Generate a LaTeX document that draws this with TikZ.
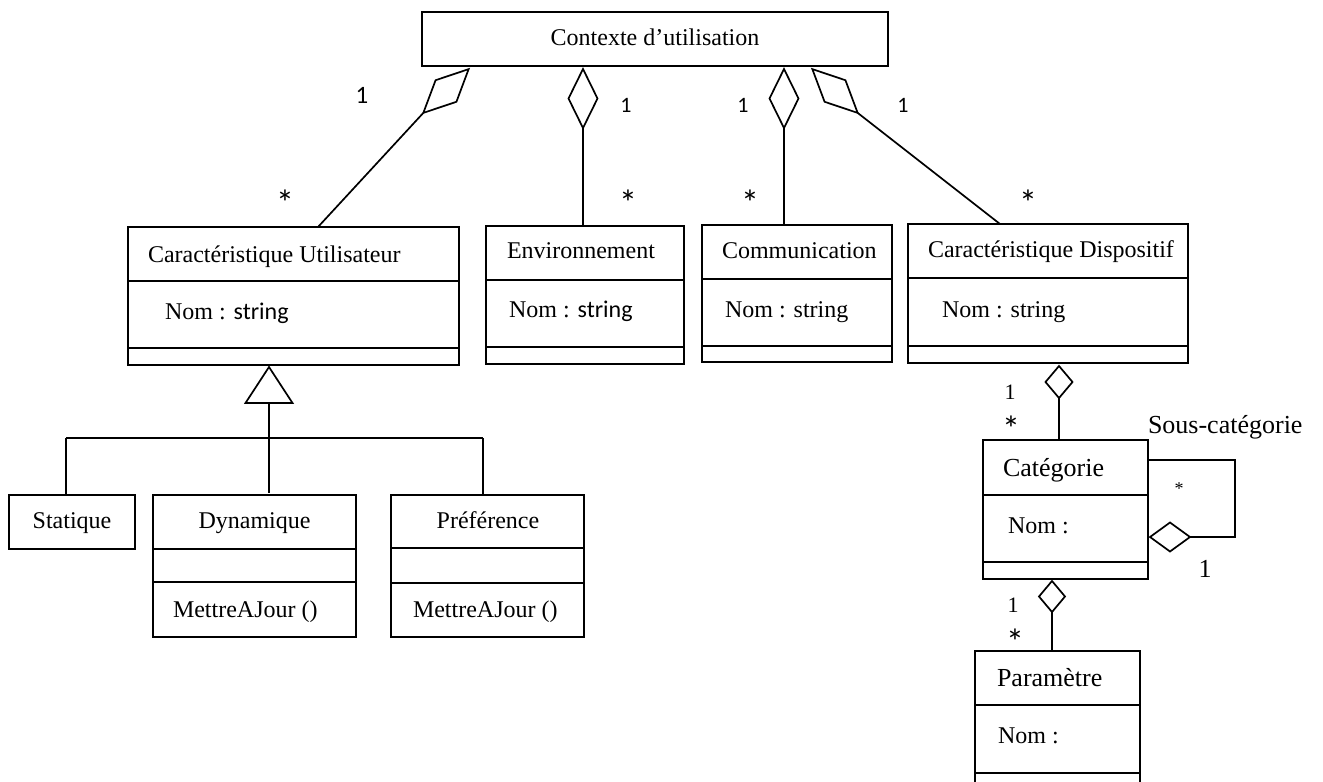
\documentclass[tikz,border=0pt]{standalone}
\usepackage{fontspec}
\setmainfont{Liberation Serif}
\newfontfamily\calib{Carlito}
\usetikzlibrary{shapes.geometric}

\begin{document}
\begin{tikzpicture}[x=1pt,y=-1pt,line width=1.7pt,
  box/.style={draw, rectangle, inner sep=0pt, outer sep=0pt, anchor=north west},
  agg/.style={draw, diamond, inner sep=0pt, outer sep=0pt, fill=white},
  txt/.style={inner sep=0pt, outer sep=0pt, anchor=base west, font=\fontsize{24}{28}\selectfont},
  txtl/.style={inner sep=0pt, outer sep=0pt, anchor=base west, font=\fontsize{26}{30}\selectfont},
  mult/.style={inner sep=0pt, outer sep=0pt, anchor=base, font=\calib\fontsize{22}{26}\selectfont},
  many/.style={inner sep=0pt, outer sep=0pt, anchor=base, font=\calib\fontsize{36}{40}\selectfont},
  multr/.style={inner sep=0pt, outer sep=0pt, anchor=base, font=\fontsize{22}{26}\selectfont},
]
\useasboundingbox (0,0) rectangle (1323,782);
\clip (0,0) rectangle (1323,782);

% ---- root class
\node[box, minimum width=466, minimum height=54] (ctx) at (422,12) {};
\node[txt, anchor=base] (ctx-t) at (655,45) {Contexte d’utilisation};

% ---- first level classes
\node[box, minimum width=331, minimum height=138] (cu) at (128,227) {};
\draw (cu.west |- 0,281) -- (cu.east |- 0,281);
\draw (cu.west |- 0,348) -- (cu.east |- 0,348);
\node[txt] (cu-t) at (148,262) {Caractéristique Utilisateur};
\node[txt] (cu-a) at (165,319) {Nom : {\calib string}};

\node[box, minimum width=198, minimum height=138] (env) at (486,226) {};
\draw (env.west |- 0,280) -- (env.east |- 0,280);
\draw (env.west |- 0,347) -- (env.east |- 0,347);
\node[txt] (env-t) at (507,258) {Environnement};
\node[txt] (env-a) at (509,317) {Nom : {\calib string}};

\node[box, minimum width=190, minimum height=137] (comm) at (702,225) {};
\draw (comm.west |- 0,279) -- (comm.east |- 0,279);
\draw (comm.west |- 0,346) -- (comm.east |- 0,346);
\node[txt] (comm-t) at (722,258) {Communication};
\node[txt] (comm-a) at (725,317) {Nom : string};

\node[box, minimum width=280, minimum height=139] (cd) at (908,224) {};
\draw (cd.west |- 0,278) -- (cd.east |- 0,278);
\draw (cd.west |- 0,346) -- (cd.east |- 0,346);
\node[txt] (cd-t) at (928,257) {Caractéristique Dispositif};
\node[txt] (cd-a) at (942,317) {Nom : string};

% ---- aggregations from the root
\node[agg, minimum width=30, minimum height=63, rotate=-46] (d1) at (446,91) {};
\node[agg, minimum width=29, minimum height=59] (d2) at (583,98.5) {};
\node[agg, minimum width=29, minimum height=59] (d3) at (784,98.5) {};
\node[agg, minimum width=30, minimum height=63, rotate=46] (d4) at (835,91) {};
\coordinate (cu-in) at (318,227);
\coordinate (cd-in) at (1000,224);
\draw (d1.south) -- (cu-in);
\draw (d2.south) -- (d2.south |- env.north);
\draw (d3.south) -- (d3.south |- comm.north);
\draw (d4.south) -- (cd-in);

\node[mult, font=\calib\fontsize{25}{28}\selectfont] (m1a) at (362,103) {1};
\node[mult] (m2a) at (626,112) {1};
\node[mult] (m3a) at (743,112) {1};
\node[mult] (m4a) at (903,112) {1};
\node[many] (m1b) at (285,215) {*};
\node[many] (m2b) at (628,215) {*};
\node[many] (m3b) at (750,215) {*};
\node[many] (m4b) at (1028,215) {*};

% ---- specialisations of the user characteristics
\node[box, minimum width=126, minimum height=54] (stat) at (9,495) {};
\node[txt, anchor=base] (stat-t) at (72,528) {Statique};

\node[box, minimum width=203, minimum height=142] (dyn) at (153,495) {};
\draw (dyn.west |- 0,549) -- (dyn.east |- 0,549);
\draw (dyn.west |- 0,582) -- (dyn.east |- 0,582);
\node[txt, anchor=base] (dyn-t) at (254.5,528) {Dynamique};
\node[txt] (dyn-m) at (173,617) {MettreAJour ()};

\node[box, minimum width=193, minimum height=142] (pref) at (391,495) {};
\draw (pref.west |- 0,548) -- (pref.east |- 0,548);
\draw (pref.west |- 0,583) -- (pref.east |- 0,583);
\node[txt, anchor=base] (pref-t) at (488,528) {Préférence};
\node[txt] (pref-m) at (413,617) {MettreAJour ()};

\coordinate (tri-top) at (269,367);
\coordinate (tri-l) at (245.5,403);
\coordinate (tri-r) at (292.5,403);
\coordinate (tri-b) at (269,403);
\coordinate (bus-l) at (66,438);
\coordinate (bus-r) at (483,438);
\draw[line join=miter] (tri-top) -- (tri-l) -- (tri-r) -- cycle;
\draw (tri-b) -- ([yshift=2pt]tri-b |- dyn.north);
\draw (bus-l) -- (bus-r);
\draw (bus-l) -- (bus-l |- stat.north);
\draw (bus-r) -- (bus-r |- pref.north);

% ---- device categories and parameters
\node[box, minimum width=165, minimum height=139] (cat) at (983,440) {};
\draw (cat.west |- 0,495) -- (cat.east |- 0,495);
\draw (cat.west |- 0,562) -- (cat.east |- 0,562);
\node[txtl] (cat-t) at (1003,476) {Catégorie};
\node[txt] (cat-a) at (1008,533) {Nom :};

\node[box, minimum width=165, minimum height=150] (param) at (975,651) {};
\draw (param.west |- 0,705) -- (param.east |- 0,705);
\draw (param.west |- 0,773) -- (param.east |- 0,773);
\node[txtl] (param-t) at (997,686) {Paramètre};
\node[txt] (param-a) at (998,743) {Nom :};

\node[agg, minimum width=27, minimum height=32] (d5) at (1059,382) {};
\node[agg, minimum width=26, minimum height=31] (d6) at (1052,596.5) {};
\node[agg, minimum width=40, minimum height=29] (d7) at (1170,537) {};
\draw (d5.south) -- (d5.south |- cat.north);
\draw (d6.south) -- (d6.south |- param.north);

\coordinate (cat-loop) at (1148,460);
\coordinate (loopx) at (1235,0);
\draw (cat-loop) -| (d7.east -| loopx) -- (d7.east);

\node[multr] (m5a) at (1010,399) {1};
\node[many] (m5b) at (1011,441) {*};
\node[multr] (m6a) at (1013,612) {1};
\node[many] (m6b) at (1015,654) {*};
\node[multr, font=\fontsize{18}{22}\selectfont] (m7a) at (1179,494) {*};
\node[multr, font=\fontsize{26}{30}\selectfont] (m7b) at (1205,577) {1};
\node[txtl] (loop-t) at (1148,433) {Sous-catégorie};

\end{tikzpicture}
\end{document}
